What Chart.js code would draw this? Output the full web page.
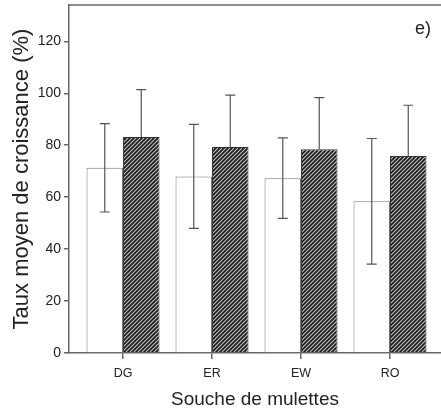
<!DOCTYPE html>
<html>
<head>
<meta charset="utf-8">
<script src="https://cdn.jsdelivr.net/npm/chart.js@4/dist/chart.umd.min.js"></script>
<style>
  html, body { margin: 0; padding: 0; background: #fff; }
  #wrap { width: 441px; height: 417px; }
</style>
</head>
<body>
<div id="wrap"><canvas id="c" width="441" height="417"></canvas></div>
<script>
// ---- data ----
const categories = ['DG', 'ER', 'EW', 'RO'];
const openMeans = [71.3, 68, 67.3, 58.4];
const openErr = [17, 20, 15.5, 24.2];
const hatchMeans = [83.2, 79.3, 78.5, 75.9];
const hatchErr = [18.2, 20, 19.8, 19.5];
const yTickValues = [0, 20, 40, 60, 80, 100, 120];
const panelLabel = 'e)';

// hatch pattern
function makeHatch() {
  const s = 4;
  const pc = document.createElement('canvas');
  pc.width = s; pc.height = s;
  const g = pc.getContext('2d');
  g.fillStyle = '#d0d0d0';
  g.fillRect(0, 0, s, s);
  g.strokeStyle = '#1e1e1e';
  g.lineWidth = 1.9;
  g.beginPath();
  g.moveTo(-1, s + 1); g.lineTo(s + 1, -1);
  g.moveTo(-1, 1); g.lineTo(1, -1);
  g.moveTo(s - 1, s + 1); g.lineTo(s + 1, s - 1);
  g.stroke();
  return g.createPattern(pc, 'repeat');
}
const hatch = makeHatch();

const AXIS = '#666';
const TEXT = '#222';

const errorBars = {
  id: 'errorBars',
  afterDatasetsDraw(chart) {
    const ctx = chart.ctx;
    const y = chart.scales.y;
    const sets = [
      { idx: 0, means: openMeans, errs: openErr, lower: true },
      { idx: 1, means: hatchMeans, errs: hatchErr, lower: false }
    ];
    ctx.save();
    ctx.strokeStyle = '#555';
    ctx.lineWidth = 1.2;
    sets.forEach(s => {
      const meta = chart.getDatasetMeta(s.idx);
      meta.data.forEach((bar, i) => {
        const x = bar.x;
        const yTop = y.getPixelForValue(s.means[i] + s.errs[i]);
        const yMid = y.getPixelForValue(s.means[i]);
        const yBot = y.getPixelForValue(s.means[i] - s.errs[i]);
        const cap = 5;
        ctx.beginPath();
        ctx.moveTo(x, yTop); ctx.lineTo(x, s.lower ? yBot : yMid);
        ctx.moveTo(x - cap, yTop); ctx.lineTo(x + cap, yTop);
        if (s.lower) { ctx.moveTo(x - cap, yBot); ctx.lineTo(x + cap, yBot); }
        ctx.stroke();
      });
    });
    ctx.restore();
  }
};

const frame = {
  id: 'frame',
  afterDraw(chart) {
    const a = chart.chartArea;
    const ctx = chart.ctx;
    ctx.save();
    ctx.strokeStyle = AXIS;
    ctx.lineWidth = 1.5;
    ctx.beginPath();
    ctx.moveTo(a.left, a.top);
    ctx.lineTo(a.right, a.top);
    ctx.stroke();
    ctx.fillStyle = TEXT;
    ctx.font = '18px "Liberation Sans", Arial, sans-serif';
    ctx.textAlign = 'right';
    ctx.textBaseline = 'middle';
    ctx.fillText(panelLabel, a.right - 10, a.top + 24);
    ctx.restore();
  }
};

new Chart(document.getElementById('c'), {
  type: 'bar',
  data: {
    datasets: [
      {
        label: 'open',
        data: categories.map((c, i) => ({ x: i, y: openMeans[i] })),
        backgroundColor: '#ffffff',
        borderColor: '#777',
        borderWidth: 1,
        barPercentage: 1,
        categoryPercentage: 0.82
      },
      {
        label: 'hatched',
        data: categories.map((c, i) => ({ x: i, y: hatchMeans[i] })),
        backgroundColor: hatch,
        borderColor: '#333',
        borderWidth: 1,
        barPercentage: 1,
        categoryPercentage: 0.82
      }
    ]
  },
  options: {
    responsive: false,
    animation: false,
    devicePixelRatio: 1,
    layout: { padding: { left: 0, right: 0, top: 5, bottom: 0 } },
    plugins: { legend: { display: false }, tooltip: { enabled: false } },
    scales: {
      x: {
        type: 'linear',
        offset: false,
        min: -0.607,
        max: 3.573,
        afterBuildTicks(scale) { scale.ticks = categories.map((c, i) => ({ value: i })); },
        afterFit(scale) { scale.height = 64; scale.paddingLeft = 0; scale.paddingRight = 0; },
        ticks: {
          callback: v => categories[v],
          autoSkip: false,
          maxRotation: 0,
          padding: 7,
          color: TEXT,
          font: { family: '"Liberation Sans", Arial, sans-serif', size: 12.5 }
        },
        grid: { offset: false, drawOnChartArea: false, drawTicks: true, tickLength: 6, color: AXIS, lineWidth: 1.5 },
        border: { color: AXIS, width: 1.5 },
        title: {
          display: true,
          text: 'Souche de mulettes',
          color: TEXT,
          font: { family: '"Liberation Sans", Arial, sans-serif', size: 19 },
          padding: { top: 0, bottom: 5.6 }
        }
      },
      y: {
        min: 0,
        max: 134,
        afterBuildTicks(scale) { scale.ticks = yTickValues.map(v => ({ value: v })); },
        afterFit(scale) { scale.width = 69; scale.paddingTop = 0; scale.paddingBottom = 0; },
        ticks: {
          padding: 3,
          color: TEXT,
          font: { family: '"Liberation Sans", Arial, sans-serif', size: 14 }
        },
        grid: { drawOnChartArea: false, drawTicks: true, tickLength: 5, color: AXIS, lineWidth: 1.5 },
        border: { color: AXIS, width: 1.5 },
        title: {
          display: true,
          text: 'Taux moyen de croissance (%)',
          color: TEXT,
          font: { family: '"Liberation Sans", Arial, sans-serif', size: 22 },
          padding: { top: 9, bottom: 0 }
        }
      }
    }
  },
  plugins: [errorBars, frame]
});
</script>
</body>
</html>
